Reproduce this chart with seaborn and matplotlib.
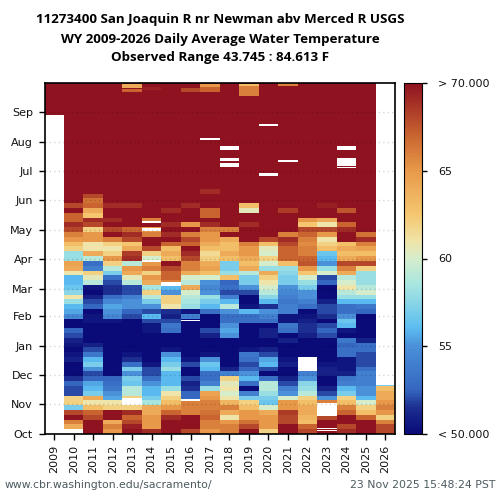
import numpy as np
import pandas as pd
import matplotlib
matplotlib.use("Agg")
import matplotlib.pyplot as plt
from matplotlib.colors import LinearSegmentedColormap
import seaborn as sns

# water years on the x axis
years = list(range(2009, 2027))

# month labels and their day of water year
month_names = ["Oct", "Nov", "Dec", "Jan", "Feb", "Mar", "Apr", "May", "Jun", "Jul", "Aug", "Sep"]
month_days = [0, 31, 61, 92, 123, 151, 182, 212, 243, 273, 304, 335]

# temperature (F) per 5 day bin from Oct 1
# anything later than the end of a list is above the 70 F limit
wy2009 = []
wy2010 = [64, 64, 66, 70, 68, 57, 62, 62, 52, 52, 52.5, 51.5, 50, 50, 50, 51, 50.5, 50, 50.5, 51, 52, 52.5, 50, 50,
          54.5, 55.5, 56, 58, 61, 57.5, 56.5, 56, 56, 61, 64, 64.5, 58, 58, 62, 63, 65, 66, 68, 69, 67, 67, 71, 68, 71]
wy2011 = [70, 70, 70, 68, 67, 63, 61, 64, 57, 56, 55.5, 52.5, 52, 55, 57, 56, 53.5, 52, 51, 50, 50, 50, 50, 50.5,
          50.5, 50, 52.5, 52, 51, 50, 50.5, 59, 60.5, 62, 54, 53, 59, 64, 61, 61, 65, 65, 62, 68, 69, 62.5, 64, 67, 66.5, 68]
wy2012 = [65, 66, 64, 70, 70, 62, 61, 55.5, 55, 53.5, 53, 52.5, 50, 50, 50, 50, 50, 50, 50, 50, 50, 50, 50, 50.5,
          54.5, 55, 55.5, 54.5, 53, 51.5, 51.5, 52, 53, 57, 59, 62, 65, 62, 61, 62, 66, 70, 68, 70, 69, 71, 71, 69, 71, 70, 70]
wy2013 = [70, 69.5, 68, 67, 69, 62, 62, 62, 59, 59, 56.5, 57, 55, 57, 53, 51.5, 50.5, 50, 50, 50, 50, 50, 50, 50,
          52, 52.5, 55, 55, 54, 52, 52, 59, 60.5, 64, 65, 59, 69, 68.5, 64, 62.5, 68, 69, 67, 71, 71, 71, 71, 69]
wy2014 = [69, 65, 65, 65, 64, 64, 58.5, 57, 56, 56, 55, 53, 52, 52, 50.5, 50, 50, 50, 50, 50, 50, 50.5, 50.5, 52,
          56, 52, 55, 57, 59, 62, 58.5, 64, 65, 62, 66, 65, 60, 62, 68, 71, 70, 66, 65, 70, 66]
wy2015 = [70, 70, 70, 69, 67, 65, 63, 62, 61, 58, 56, 56, 56, 58, 57, 56, 55, 50.5, 50, 50, 50, 53, 53.5, 52,
          51, 51.5, 61, 62, 62, 55, 56, 66, 67, 67, 68, 71, 63, 64, 63, 67, 71, 69, 71, 69, 71, 71, 69]
wy2016 = [68, 70.5, 70.5, 70, 66, 66, 66, 52.5, 52.5, 51.5, 51, 52, 50, 50, 52, 50.5, 50, 50, 50, 50, 50, 50, 50, 50,
          54, 50.5, 58, 58.5, 59, 60, 64, 59, 60, 64, 66, 66, 68, 69, 70, 67, 68, 66, 71, 65, 71, 71, 71, 69]
wy2017 = [65, 66, 66, 67, 66.5, 66, 66, 65, 64.5, 58, 54, 53, 53, 56, 56.5, 55, 50.5, 50, 50, 50, 51, 52, 50, 50,
          50, 53, 56, 57, 58, 55, 54.5, 55, 60, 63, 64.5, 64, 62, 61.5, 63, 64, 65, 65, 66, 69, 70, 67, 67, 71, 71, 71, 69]
wy2018 = [66, 66, 65, 61, 64, 66, 63.5, 61, 60, 61, 60.5, 62, 54, 51, 50, 50, 50, 50, 50, 50, 55, 55.5, 55, 53,
          53, 55, 59, 56, 54, 52, 53, 52.5, 63, 58, 57, 57, 63, 64, 63, 63, 64, 70, 66, 70]
wy2019 = [70, 68, 66.5, 65, 65, 63, 62, 57, 54, 50, 53, 56, 55, 52.5, 52, 53, 53.5, 50.5, 50, 50, 50, 50, 50, 53,
          53, 56, 50.5, 50, 50, 52, 55, 57, 57, 59, 64, 63, 64, 65, 65, 66, 71, 71, 71, 69, 71, 71, 60.5, 63]
wy2020 = [62, 65, 65, 65, 64, 60, 56.5, 57, 58, 59, 59, 53, 50, 52, 56, 55.5, 52, 51, 50, 50, 51, 51, 50, 53,
          54, 55, 51.5, 56, 57.5, 59, 60, 61, 62, 64, 58, 60, 62, 60, 60.5, 63, 68]
wy2021 = [70, 70, 68, 68, 68.5, 65, 65, 60, 55, 54, 52, 51, 50, 50, 51, 50.5, 50, 50, 50, 51, 50, 53, 53.5, 50.5,
          50.5, 54, 54, 53.5, 54, 54.5, 55, 57, 57, 57.5, 58, 63, 67, 67, 67, 68, 69, 66, 71, 71, 71, 71, 68.5]
wy2022 = [68, 67, 63, 63.5, 64, 64, 63, 62, 59, 58, 57.5, 55, 54, 54, 50, 50, 50, 50, 50, 50, 51, 51.5, 51.5, 51,
          50.5, 50, 53, 54, 55, 55, 57, 58, 60, 62.5, 65, 67.5, 67, 66, 66, 65.5, 66, 67, 68, 62.5, 65, 71, 71, 70]
wy2023 = [70, 70, 70, 68, 66, 66, 66, 55, 52, 51, 50, 50, 51, 51, 50.5, 50, 50, 50, 50, 50, 52, 52.5, 52, 50,
          51.5, 52, 52, 51, 50, 50, 50, 52.5, 52, 60, 58, 55, 56, 56.5, 63, 62, 61, 65, 68, 61, 64, 71, 71, 69.5, 70]
wy2024 = [69, 68, 70, 70, 67, 66, 63, 62, 57, 56, 54, 53.5, 51, 50.5, 50.5, 50.5, 53, 53, 52.5, 53.5, 50, 50.5, 56, 56.5,
          55, 53, 53, 56, 58, 59, 61, 60, 59, 64, 66, 68, 64, 63, 64, 63, 71, 71, 69, 67, 70, 71, 67.5, 70]
wy2025 = [71, 71, 71, 67, 63, 62, 60, 56, 55, 55, 54, 54, 54, 53, 52, 52, 52, 53, 53, 51, 50, 50, 50, 50,
          50, 52.5, 53.5, 56, 58, 60, 59, 58, 58, 58, 62, 68, 65, 63, 64.5, 66, 69, 66.5]
wy2026 = [68, 68, 66, 62, 65, 66, 65, 64, 64, 63, 57]
year_series = [wy2009, wy2010, wy2011, wy2012, wy2013, wy2014, wy2015, wy2016, wy2017,
               wy2018, wy2019, wy2020, wy2021, wy2022, wy2023, wy2024, wy2025, wy2026]

# days with no record: water year, first day, day after the last
gap_years = [2009, 2010, 2013, 2014, 2014, 2014, 2015, 2016, 2016, 2017, 2018, 2018, 2018, 2020, 2020,
             2021, 2022, 2023, 2023, 2023, 2024, 2024, 2024, 2026]
gap_starts = [0, 0, 30, 179, 211, 219, 154, 34, 117, 306, 295, 284, 278, 320, 268,
              283, 65, 19, 5, 3, 295, 279, 277, 51]
gap_ends = [332, 5, 37, 181, 214, 221, 158, 36, 119, 308, 299, 287, 282, 322, 271,
            285, 80, 32, 6, 4, 299, 287, 278, 365]

# short cool spells late in the summer: water year, first day, day after the last, temperature
spell_years = [2013, 2013, 2014, 2016, 2017, 2017, 2019, 2019, 2021, 2022]
spell_starts = [360, 356, 358, 356, 356, 361, 351, 362, 362, 348]
spell_ends = [364, 359, 361, 360, 361, 364, 362, 364, 365, 350]
spell_temps = [64, 67, 69.5, 68, 67, 65, 66, 63, 66, 70]

# colour bar stops
temp_stops = [50, 51.5, 52.5, 55, 56, 58.5, 60, 61, 62.5, 65, 67, 70]
stop_colors = ["#0a0a78", "#1c2f90", "#3567c0", "#4a90d9", "#5bbcf0", "#a8e6e0", "#d5edcc", "#f0e4a8",
               "#f5c770", "#e89a4a", "#c96530", "#8f1220"]

ABOVE_LIMIT = 71.5
N_DAYS = 365


def build_table():
    table = np.full((N_DAYS, len(years)), ABOVE_LIMIT)
    for col, series in enumerate(year_series):
        daily = np.repeat(series, 5)
        table[:len(daily), col] = daily
    for year, start, end, temp in zip(spell_years, spell_starts, spell_ends, spell_temps):
        table[start:end, years.index(year)] = temp
    for year, start, end in zip(gap_years, gap_starts, gap_ends):
        table[start:end, years.index(year)] = np.nan
    return pd.DataFrame(table, columns=years)


sns.set_style("ticks")
plt.rcParams["font.family"] = ["DejaVu Sans"]
plt.rcParams["text.color"] = "black"
plt.rcParams["xtick.labelcolor"] = "#111111"
plt.rcParams["ytick.labelcolor"] = "#111111"

cmap = LinearSegmentedColormap.from_list(
    "temps", [((t - 50) / 20, c) for t, c in zip(temp_stops, stop_colors)], N=256)
cmap.set_bad("white")

fig = plt.figure(figsize=(5, 5), dpi=100)
ax = fig.add_axes([44.5 / 500, 66 / 500, 350.5 / 500, 351 / 500])
cax = fig.add_axes([403.5 / 500, 66 / 500, 18.3 / 500, 351 / 500])

sns.heatmap(build_table(), ax=ax, cbar_ax=cax, cmap=cmap, vmin=50, vmax=70,
            yticklabels=False, cbar_kws={"ticks": [50, 55, 60, 65, 70]})
ax.invert_yaxis()

ax.set_yticks(month_days)
ax.set_yticklabels(month_names, rotation=0, fontsize=8)
ax.tick_params(axis="x", labelrotation=90, labelsize=8, length=4.3, width=1, color="black")
ax.tick_params(axis="y", length=4.3, width=1, color="black", pad=4)
ax.set_xlabel("")
ax.set_ylabel("")

ax.set_axisbelow(False)
ax.yaxis.grid(True, color="black", alpha=0.2, linewidth=1, linestyle=(0, (0.8, 2.4)))

for spine in ax.spines.values():
    spine.set_visible(True)
    spine.set_linewidth(1.2)
    spine.set_color("black")

cbar = ax.collections[0].colorbar
cbar.set_ticklabels(["< 50.000", "55", "60", "65", "> 70.000"])
cbar.ax.tick_params(labelsize=8, length=3.6, width=1, color="black", pad=8)
cbar.outline.set_visible(True)
cbar.outline.set_edgecolor("black")
cbar.outline.set_linewidth(0.8)

title_lines = ["11273400 San Joaquin R nr Newman abv Merced R USGS",
               "WY 2009-2026 Daily Average Water Temperature",
               "Observed Range 43.745 : 84.613 F"]
for y_px, line in zip([20, 39, 58], title_lines):
    fig.text(220 / 500, 1 - y_px / 500, line, ha="center", va="center",
             fontsize=9.65, fontweight="bold", family="Open Sans")

fig.text(5 / 500, 1 - 485 / 500, "www.cbr.washington.edu/sacramento/",
         ha="left", va="center", fontsize=7.85, color="#4d5a60")
fig.text(495 / 500, 1 - 485 / 500, "23 Nov 2025 15:48:24 PST",
         ha="right", va="center", fontsize=7.85, color="#4d5a60")

fig.savefig("out.png", dpi=100)
